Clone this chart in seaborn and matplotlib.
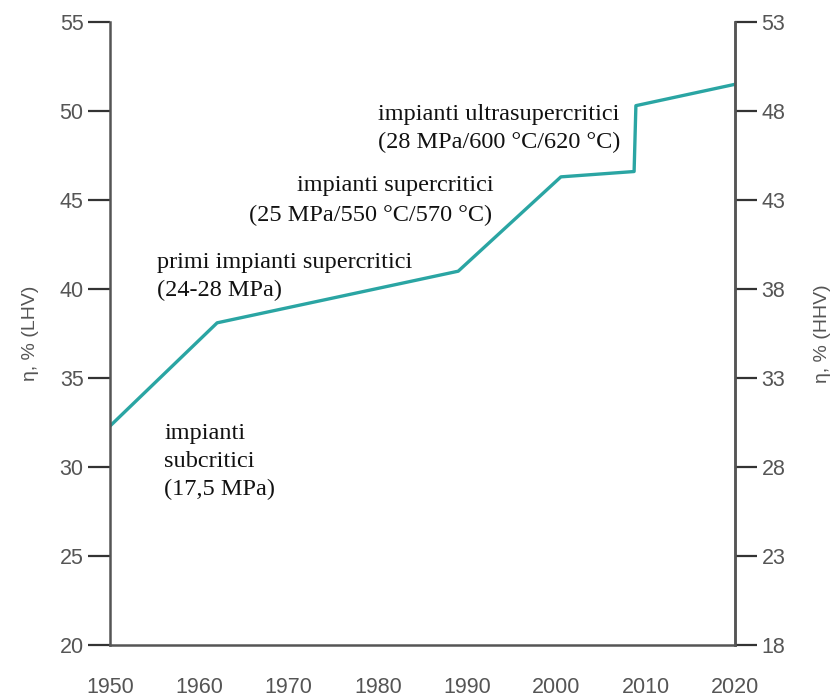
import matplotlib
matplotlib.use("Agg")
import matplotlib.pyplot as plt
import seaborn as sns
import pandas as pd

years = [1950, 1962, 1989, 2000.5, 2008.7, 2008.9, 2020]
eff_lhv = [32.3, 38.1, 41.0, 46.3, 46.6, 50.3, 51.5]
x_ticks = [1950, 1960, 1970, 1980, 1990, 2000, 2010, 2020]
left_ticks = [20, 25, 30, 35, 40, 45, 50, 55]
right_labels = ["18", "23", "28", "33", "38", "43", "48", "53"]

sns.set_style("white")
plt.rcParams['font.family'] = ['Liberation Sans Narrow', 'Liberation Sans', 'DejaVu Sans']

df = pd.DataFrame({"year": years, "eff": eff_lhv})

fig = plt.figure(figsize=(8.39, 6.97), dpi=100)
ax = fig.add_axes([110/839, 52/697, 625/839, 623/697])
sns.lineplot(data=df, x="year", y="eff", ax=ax, estimator=None, sort=False,
             color="#2aa5a3", linewidth=2.4)

gray = "#555555"
ax.set_xlim(1950, 2020)
ax.set_ylim(20, 55)
ax.set_xticks(x_ticks)
ax.set_yticks(left_ticks)
ax.set_xlabel("")
ax.set_ylabel("η, % (LHV)", fontsize=14, color=gray,
              family=['Liberation Sans', 'DejaVu Sans'], va="center", ha="center")
ax.yaxis.set_label_coords(-0.128, 0.5)
ax.spines["top"].set_visible(False)
for s in ["left", "bottom", "right"]:
    ax.spines[s].set_color(gray)
    ax.spines[s].set_linewidth(1.8)
ax.tick_params(axis="y", direction="out", length=16, width=1.6, color="#333333",
               labelsize=15.5, labelcolor=gray, pad=3)
ax.tick_params(axis="x", direction="out", length=18, width=1.6, color="#333333",
               labelsize=15.5, labelcolor=gray, pad=5)

ax2 = ax.twinx()
ax2.set_ylim(20, 55)
ax2.set_yticks(left_ticks)
ax2.set_yticklabels(right_labels)
for s in ["top", "left", "bottom"]:
    ax2.spines[s].set_visible(False)
ax2.spines["right"].set_color(gray)
ax2.spines["right"].set_linewidth(1.8)
ax2.tick_params(axis="y", direction="out", length=16, width=1.6, color="#333333",
                labelsize=15.5, labelcolor=gray, pad=3)
ax2.set_ylabel("η, % (HHV)", fontsize=14, color=gray, rotation=90,
               family=['Liberation Sans', 'DejaVu Sans'], va="center", ha="center")
ax2.yaxis.set_label_coords(1.14, 0.5)

serif = dict(family=['Liberation Serif', 'DejaVu Serif'], fontsize=17.5, color="#111111",
             va="center", ha="left", linespacing=1.45)
ax.text(1956.1, 30.3, "impianti\nsubcritici\n(17,5 MPa)", **serif)
ax.text(1955.3, 40.7, "primi impianti supercritici\n(24-28 MPa)", **serif)
ax.text(1970.9, 45.8, "impianti supercritici", **serif)
ax.text(1965.6, 44.15, "(25 MPa/550 °C/570 °C)", **serif)
ax.text(1980.0, 49.0, "impianti ultrasupercritici\n(28 MPa/600 °C/620 °C)", **serif)

fig.savefig("out.png", dpi=100)
